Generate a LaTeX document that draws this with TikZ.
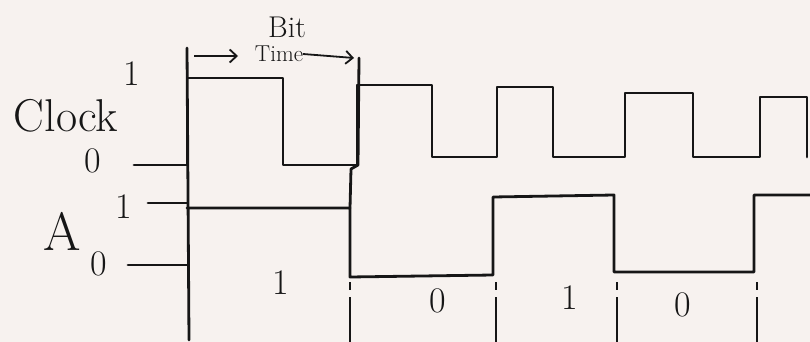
\documentclass[tikz,border=0pt]{standalone}
\usepackage{tikz}
\usetikzlibrary{arrows.meta}
\definecolor{paperBg}{HTML}{F7F2EF}
\definecolor{penInk}{HTML}{161616}
\tikzset{
  wave/.style={draw=penInk, line width=2.8pt, line join=round, line cap=round},
  bitbar/.style={draw=penInk, line width=2.6pt, dash pattern=on 8pt off 7pt on 48pt off 10pt},
  penarrow/.style={draw=penInk, line width=1.8pt, -{Straight Barb[length=7pt,width=13pt]}},
  signame/.style ={font=\fontsize{46}{48}\selectfont, text=penInk},
  aname/.style   ={font=\fontsize{54}{56}\selectfont, text=penInk},
  levelcell/.style={font=\fontsize{36}{38}\selectfont, text=penInk},
  bitcell/.style  ={font=\fontsize{36}{38}\selectfont, text=penInk},
  hdrcell/.style  ={font=\fontsize{30}{32}\selectfont, text=penInk},
  hdrsmall/.style ={font=\fontsize{23}{25}\selectfont, text=penInk},
}

\begin{document}
\begin{tikzpicture}[
  x=1pt,y=-1pt,
  every node/.style={inner sep=0pt,outer sep=0pt},
]

% --- paper ------------------------------------------------------------------
\fill[paperBg] (0,0) rectangle (810,342);
\useasboundingbox (0,0) rectangle (810,342);

% --- signal names and levels ------------------------------------------------
\node[signame]   (clk)     at (66,116) {Clock};
\node[levelcell] (clkOne)  at (132,74) {1};
\node[levelcell] (clkZero) at (93,161) {0};
\node[aname]     (aSig)    at (62,231) {A};
\node[levelcell] (aOne)    at (124,207) {1};
\node[levelcell] (aZero)   at (99,264) {0};

% level stubs
\draw[wave] (148,203) -- (187,203);
\draw[wave] (128,265) -- (187,265);

% --- bit time marker --------------------------------------------------------
\node[hdrcell]  (bitTop)  at (287,27) {Bit};
\node[hdrsmall] (timeLbl) at (279,54) {Time};
\coordinate (bitL) at (194,56);
\coordinate (bitM) at (238,56);
\coordinate (bitR) at (354,58);
\draw[penarrow] (bitL) -- (bitM);
\draw[penarrow] (timeLbl.east) -- (bitR);

% --- bar lines ----------------------------------------------------------------
\draw[wave] (187,48) -- (189,340);
\draw[wave] (359,58) -- (358,165) -- (351,169) -- (350,208);
\foreach \bx in {350,496,617,757}{
  \draw[bitbar] (\bx,282) -- (\bx,342);
}

% --- clock ------------------------------------------------------------------
\draw[wave] (134,165) -- (187,165) -- (187,78) -- (283,78) -- (283,165)
  -- (357,165) -- (357,85) -- (432,85) -- (432,157) -- (497,157)
  -- (497,87) -- (553,87) -- (553,157) -- (625,157) -- (625,93)
  -- (693,93) -- (693,157) -- (760,157) -- (760,97) -- (807,97) -- (807,157);

% --- A ----------------------------------------------------------------------
\draw[wave] (187,208) -- (350,208) -- (350,277) -- (493,275) -- (493,197)
  -- (614,195) -- (614,272) -- (754,272) -- (754,195) -- (810,195);

% --- bit values -------------------------------------------------------------
\node[bitcell] (bitA) at (281,283) {1};
\node[bitcell] (bitB) at (438,301) {0};
\node[bitcell] (bitC) at (570,298) {1};
\node[bitcell] (bitD) at (683,305) {0};

\end{tikzpicture}
\end{document}
